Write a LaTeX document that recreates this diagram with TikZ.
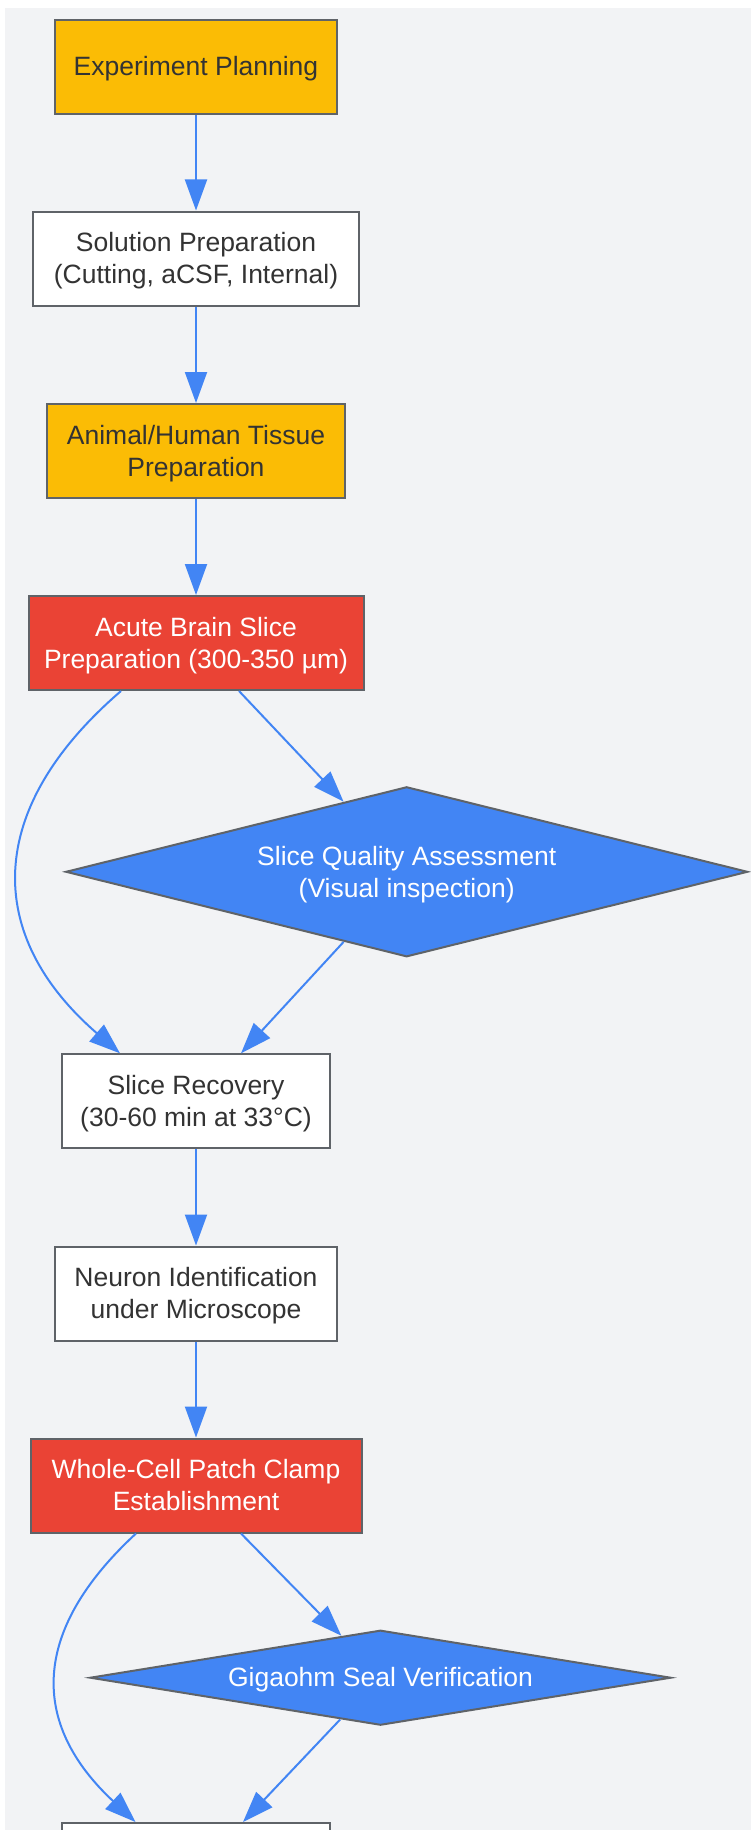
\documentclass[tikz,border=0pt]{standalone}
\usepackage{fontspec}
\setmainfont{Liberation Sans}
\usetikzlibrary{shapes.geometric, arrows.meta}

\definecolor{bgGray}{HTML}{F2F3F5}
\definecolor{gYellow}{HTML}{FBBC05}
\definecolor{gRed}{HTML}{EA4335}
\definecolor{gBlue}{HTML}{4285F4}
\definecolor{edgeGray}{HTML}{5F6368}
\definecolor{txtDark}{HTML}{333333}

% strut as high and as deep as a line of the label font
\newcommand{\ls}{\rule[-5.6pt]{0pt}{29.6pt}}

\begin{document}
\begin{tikzpicture}[x = 1pt, y = -1pt,
		box/.style = {draw = edgeGray, line width = 2pt, fill = white, text = txtDark, align = center,
			font = \fontsize{26.5}{32}\selectfont, minimum height = 94pt, inner xsep = 8pt},
		yellowbox/.style = {box, fill = gYellow},
		redbox/.style = {box, fill = gRed, text = white},
		decision/.style = {diamond, draw = edgeGray, line width = 2pt, fill = gBlue, text = white, align = center,
			font = \fontsize{26.5}{32}\selectfont, inner sep = 0pt},
		flow/.style = {draw = gBlue, line width = 2pt, -{Triangle[length = 31pt, width = 22pt]}}]
		\useasboundingbox (0, 0) rectangle (751, 1830);
		\clip (0, 0) rectangle (751, 1830);
		\fill[bgGray] (5, 8) rectangle (751, 1830);
		%\draw[gray, dotted] (0, 0) grid[step = 50] (751, 1830);
		\node[yellowbox, minimum width = 282pt] (plan) at (196, 66.6) {\ls Experiment Planning};
		\node[box, minimum width = 326pt] (solution) at (196, 258.5) {\ls Solution Preparation\\(Cutting, aCSF, Internal)\ls};
		\node[yellowbox, minimum width = 298pt] (tissue) at (196, 451) {\ls Animal/Human Tissue\\Preparation\ls};
		\node[redbox, minimum width = 335pt] (slice) at (196, 643) {\ls Acute Brain Slice\\Preparation (300-350 µm)\ls};
		\node[decision, aspect = 4, minimum width = 682pt, minimum height = 170pt] (quality) at (406.7, 871.8) {\ls Slice Quality Assessment\\(Visual inspection)\ls};
		\node[box, minimum width = 268pt] (recovery) at (196, 1101.3) {\ls Slice Recovery\\(30-60 min at 33°C)\ls};
		\node[box, minimum width = 282pt] (neuron) at (196, 1293.5) {\ls Neuron Identification\\under Microscope\ls};
		\node[redbox, minimum width = 331pt] (patch) at (196, 1485.5) {\ls Whole-Cell Patch Clamp\\Establishment\ls};
		\node[decision, aspect = 6, minimum width = 581pt, minimum height = 95pt] (seal) at (380.5, 1677.7) {\ls Gigaohm Seal Verification};
		\node[box, minimum width = 268pt] (next) at (196, 1870) {};

		\draw[flow] (plan) -- (solution);
		\draw[flow] (solution) -- (tissue);
		\draw[flow] (tissue) -- (slice);
		\draw[flow] ([xshift = -75pt]slice.south) .. controls +(-137, 118) and +(-136, -118) .. ([xshift = -76pt]recovery.north);
		\draw[flow] ([xshift = 43pt]slice.south) -- (quality.132);
		\draw[flow] (quality.228) -- ([xshift = 45pt]recovery.north);
		\draw[flow] (recovery) -- (neuron);
		\draw[flow] (neuron) -- (patch);
		\draw[flow] ([xshift = -60pt]patch.south) .. controls +(-106, 98) and +(-105, -98) .. ([xshift = -60.5pt]next.north);
		\draw[flow] ([xshift = 45pt]patch.south) -- (seal.133);
		\draw[flow] (seal.226) -- ([xshift = 47pt]next.north);
	\end{tikzpicture}
\end{document}
